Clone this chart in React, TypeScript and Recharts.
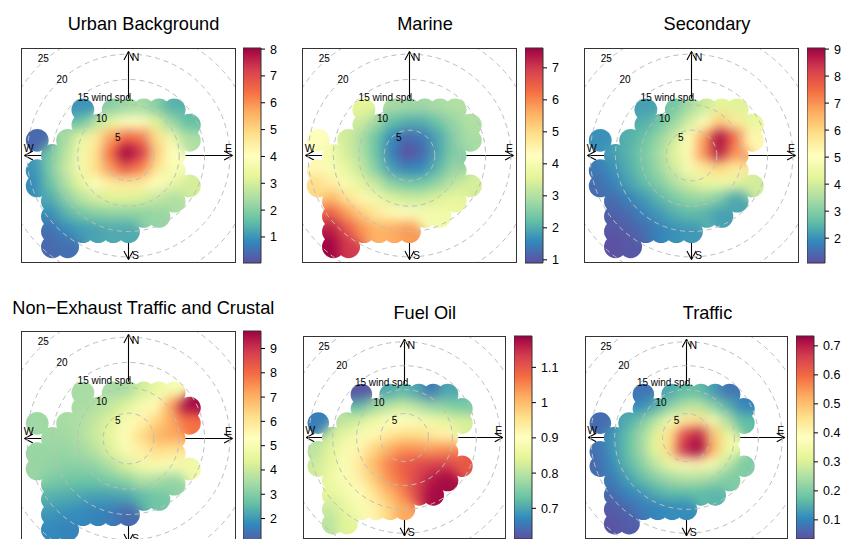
import React from "react"
import { ScatterChart, Scatter, XAxis, YAxis, ReferenceDot, ReferenceLine, ReferenceArea, ComposedChart } from "recharts"

const FONT = '"Liberation Sans", Arial, Helvetica, sans-serif'

// brewer Spectral, reversed (low -> high)
const SPECTRAL = ["#5E4FA2", "#3288BD", "#66C2A5", "#ABDDA4", "#E6F598", "#FFFFBF", "#FEE08B", "#FDAE61", "#F46D43", "#D53E4F", "#9E0142"]

// wind components (u = east, v = north) of the grid cells, in wind speed units
const gridU = [-18, -15, -12, -9, -6, -3, 0, 3, 6, 9, 12]
const gridV = [9, 6, 3, 0, -3, -6, -9, -12, -15, -18]
const _ = null

const urbanRows = [
  [_, _, _, 1.0, _, 2.0, 2.3, 2.4, 2.0, 1.4, _],
  [_, _, _, 1.7, 2.6, 3.4, 4.0, 4.0, 3.2, 2.3, 1.6],
  [0.4, _, 2.3, 3.4, 4.5, 5.8, 6.5, 6.3, 4.8, 3.6, 2.5],
  [_, 1.8, 2.6, 3.6, 4.7, 6.4, 8.4, 7.3, 5.2, 4.0, _],
  [1.0, 1.9, 2.8, 3.7, 4.8, 5.9, 6.8, 6.2, 4.8, 3.8, _],
  [0.9, 1.7, 2.5, 3.3, 4.0, 4.5, 4.6, 4.5, 4.0, 3.5, 3.0],
  [_, 1.3, 2.0, 2.6, 3.0, 3.2, 3.2, 3.1, 2.8, 2.5, _],
  [_, 0.9, 1.4, 1.8, 2.0, 2.1, 2.1, 2.1, 2.2, _, _],
  [_, 0.5, 0.9, 1.1, 1.2, 1.3, 1.3, _, _, _, _],
  [_, 0.4, 0.5, _, _, _, _, _, _, _, _],
]
const marineRows = [
  [_, _, _, 3.6, _, 2.9, 2.8, 2.8, 2.9, 3.0, _],
  [_, _, _, 3.3, 2.8, 2.2, 2.0, 2.0, 2.3, 2.7, 3.0],
  [4.2, _, 3.4, 2.9, 2.3, 1.6, 1.2, 1.4, 1.9, 2.5, 2.9],
  [_, 3.9, 3.4, 3.0, 2.3, 1.5, 0.9, 1.2, 1.9, 2.5, _],
  [4.4, 4.1, 3.7, 3.2, 2.5, 1.8, 1.5, 1.6, 2.1, 2.7, _],
  [5.0, 4.6, 4.1, 3.6, 3.2, 2.6, 2.4, 2.4, 2.7, 3.1, 3.4],
  [_, 5.5, 4.9, 4.4, 3.9, 3.5, 3.3, 3.3, 3.5, 3.7, _],
  [_, 6.5, 5.8, 5.2, 4.7, 4.4, 4.2, 4.0, 3.9, _, _],
  [_, 7.3, 6.6, 5.9, 5.5, 5.6, 5.8, _, _, _, _],
  [_, 7.6, 7.0, _, _, _, _, _, _, _, _],
]
const secondaryRows = [
  [_, _, _, 2.2, _, 2.8, 3.4, 3.9, 4.3, 4.2, _],
  [_, _, _, 2.4, 2.8, 3.3, 4.0, 5.0, 6.2, 5.6, 4.4],
  [2.0, _, 2.4, 2.7, 3.2, 3.9, 5.0, 6.8, 8.9, 7.5, 5.3],
  [_, 2.2, 2.5, 2.9, 3.4, 4.2, 5.2, 7.0, 8.7, 7.0, _],
  [1.7, 2.0, 2.4, 2.8, 3.3, 4.0, 4.8, 5.6, 6.0, 5.6, _],
  [1.5, 1.8, 2.2, 2.6, 3.0, 3.5, 4.0, 4.4, 4.6, 4.4, 4.0],
  [_, 1.5, 1.8, 2.1, 2.5, 2.9, 3.2, 3.3, 3.0, 2.3, _],
  [_, 1.3, 1.5, 1.8, 2.1, 2.4, 2.6, 2.5, 2.2, _, _],
  [_, 1.2, 1.3, 1.5, 1.8, 2.0, 2.1, _, _, _, _],
  [_, 1.1, 1.2, _, _, _, _, _, _, _, _],
]
const nonExhaustRows = [
  [_, _, _, 3.5, _, 3.5, 3.5, 4.1, 4.6, 5.0, _],
  [_, _, _, 3.5, 3.6, 3.9, 4.3, 4.9, 5.4, 7.2, 9.6],
  [3.4, _, 3.5, 3.6, 3.9, 4.3, 5.0, 5.6, 6.3, 7.1, 7.9],
  [_, 3.4, 3.4, 3.6, 4.0, 4.6, 5.4, 6.2, 6.9, 7.1, _],
  [3.3, 3.3, 3.3, 3.4, 3.7, 4.3, 5.0, 5.7, 6.2, 6.0, _],
  [3.3, 3.2, 3.1, 3.1, 3.2, 3.6, 4.2, 4.8, 5.0, 5.0, 4.8],
  [_, 2.9, 2.8, 2.7, 2.7, 2.9, 3.1, 3.6, 3.5, 3.2, _],
  [_, 2.4, 2.3, 2.2, 2.1, 2.1, 2.2, 2.5, 2.8, _, _],
  [_, 2.0, 1.9, 1.8, 1.7, 1.6, 1.3, _, _, _, _],
  [_, 1.8, 1.7, _, _, _, _, _, _, _, _],
]
const fuelOilRows = [
  [_, _, _, 0.62, _, 0.7, 0.72, 0.7, 0.65, 0.7, _],
  [_, _, _, 0.72, 0.77, 0.8, 0.82, 0.8, 0.77, 0.76, 0.74],
  [0.66, _, 0.8, 0.83, 0.86, 0.89, 0.9, 0.89, 0.87, 0.85, 0.83],
  [_, 0.82, 0.85, 0.88, 0.91, 0.94, 0.96, 0.96, 0.94, 0.92, _],
  [0.8, 0.84, 0.88, 0.92, 0.97, 1.01, 1.04, 1.04, 1.03, 1.04, _],
  [0.82, 0.85, 0.89, 0.94, 1.0, 1.05, 1.09, 1.11, 1.12, 1.12, 1.1],
  [_, 0.86, 0.89, 0.93, 0.98, 1.04, 1.08, 1.12, 1.16, 1.18, _],
  [_, 0.85, 0.87, 0.9, 0.95, 1.0, 1.05, 1.12, 1.18, _, _],
  [_, 0.82, 0.85, 0.88, 0.92, 0.97, 1.02, _, _, _, _],
  [_, 0.8, 0.84, _, _, _, _, _, _, _, _],
]
const trafficRows = [
  [_, _, _, 0.08, _, 0.14, 0.17, 0.17, 0.13, 0.08, _],
  [_, _, _, 0.11, 0.15, 0.21, 0.26, 0.27, 0.22, 0.16, 0.1],
  [0.07, _, 0.14, 0.19, 0.26, 0.35, 0.43, 0.45, 0.36, 0.26, 0.17],
  [_, 0.12, 0.17, 0.23, 0.31, 0.45, 0.64, 0.7, 0.5, 0.33, _],
  [0.08, 0.12, 0.17, 0.23, 0.32, 0.46, 0.68, 0.74, 0.52, 0.34, _],
  [0.07, 0.11, 0.16, 0.21, 0.27, 0.34, 0.4, 0.41, 0.36, 0.28, 0.2],
  [_, 0.09, 0.13, 0.17, 0.21, 0.24, 0.26, 0.26, 0.24, 0.2, _],
  [_, 0.07, 0.1, 0.12, 0.15, 0.17, 0.17, 0.17, 0.16, _, _],
  [_, 0.05, 0.07, 0.09, 0.1, 0.11, 0.11, _, _, _, _],
  [_, 0.04, 0.05, _, _, _, _, _, _, _, _],
]

// colour key ranges and tick labels
const urbanRange = [0.03, 8.04]
const marineRange = [0.9, 7.62]
const secondaryRange = [1.08, 9.04]
const nonExhaustRange = [0.87, 9.72]
const fuelOilRange = [0.613, 1.189]
const trafficRange = [0.034, 0.734]
const urbanTicks = [1, 2, 3, 4, 5, 6, 7, 8]
const marineTicks = [1, 2, 3, 4, 5, 6, 7]
const secondaryTicks = [2, 3, 4, 5, 6, 7, 8, 9]
const nonExhaustTicks = [2, 3, 4, 5, 6, 7, 8, 9]
const fuelOilTicks = [0.7, 0.8, 0.9, 1, 1.1]
const trafficTicks = [0.1, 0.2, 0.3, 0.4, 0.5, 0.6, 0.7]

const R = 21.2
const STEP = 3
const RINGS = [5, 10, 15, 20, 25]
const AX = 20.5
const HL = 1.65
const HW = 0.9
const ringLabels: [string, number, number][] = [
  ["25", -16.8, 19.1], ["20", -13.1, 15], ["15 wind spd.", -4.5, 11.5], ["10", -5.3, 7.35], ["5", -2.1, 3.5],
]
const compass: [string, number, number][] = [["N", 1.4, 19.4], ["S", 1.4, -19.7], ["W", -19.7, 1.5], ["E", 19.7, 1.5]]
const axisSegs = [
  [[-AX, 0], [AX, 0]], [[0, -AX], [0, AX]],
  [[AX, 0], [AX - HL, HW]], [[AX, 0], [AX - HL, -HW]],
  [[-AX, 0], [-AX + HL, HW]], [[-AX, 0], [-AX + HL, -HW]],
  [[0, AX], [HW, AX - HL]], [[0, AX], [-HW, AX - HL]],
  [[0, -AX], [HW, -AX + HL]], [[0, -AX], [-HW, -AX + HL]],
]

function hexRgb(h: string) {
  const n = parseInt(h.slice(1), 16)
  return [(n >> 16) & 255, (n >> 8) & 255, n & 255]
}

function colorOf(v: number, lo: number, hi: number) {
  const t = Math.min(1, Math.max(0, (v - lo) / (hi - lo))) * (SPECTRAL.length - 1)
  const i = Math.min(SPECTRAL.length - 2, Math.floor(t))
  const f = t - i
  const a = hexRgb(SPECTRAL[i])
  const b = hexRgb(SPECTRAL[i + 1])
  const c = a.map((x, k) => Math.round(x + (b[k] - x) * f))
  return `rgb(${c[0]},${c[1]},${c[2]})`
}

function toPoints(rows: (number | null)[][]) {
  const out: { u: number; v: number; val: number }[] = []
  rows.forEach((row, i) => row.forEach((val, j) => {
    if (val != null) out.push({ u: gridU[j], v: gridV[i], val })
  }))
  return out
}

type PanelProps = {
  id: string
  title: string
  rows: (number | null)[][]
  range: number[]
  ticks: number[]
  left: number
  top: number
  size: number
  barLeft: number
  titleX: number
  titleY: number
}

function Panel({ id, title, rows, range, ticks, left, top, size, barLeft, titleX, titleY }: PanelProps) {
  const [lo, hi] = range
  const scale = size / (2 * R)
  const dotR = 0.75 * STEP * scale
  const pts = toPoints(rows)
  return (
    <>
      <div style={{ position: "absolute", left: titleX - 170, top: titleY - 11, width: 340, textAlign: "center", fontSize: 18.2, lineHeight: "22px", color: "#000" }}>
        {title}
      </div>
      <div className="hm" style={{ position: "absolute", left, top, width: size, height: size }}>
        <ScatterChart width={size} height={size} margin={{ top: 0, right: 0, bottom: 0, left: 0 }}>
          <XAxis type="number" dataKey="u" domain={[-R, R]} hide allowDataOverflow />
          <YAxis type="number" dataKey="v" domain={[-R, R]} hide allowDataOverflow />
          <Scatter
            data={pts}
            isAnimationActive={false}
            shape={(p: any) => <circle cx={p.cx} cy={p.cy} r={dotR} fill={colorOf(p.payload.val, lo, hi)} />}
          />
          {RINGS.map((k) => (
            <ReferenceDot key={k} x={0} y={0} r={k * scale} ifOverflow="visible"
              shape={(p: any) => <circle cx={p.cx} cy={p.cy} r={k * scale} fill="none" stroke="#bdbdbd" strokeWidth={1} strokeDasharray="5 4" />} />
          ))}
          {axisSegs.map((s, i) => (
            <ReferenceLine key={i} segment={[{ x: s[0][0], y: s[0][1] }, { x: s[1][0], y: s[1][1] }]} stroke="#000" strokeWidth={1.1} ifOverflow="visible" />
          ))}
          {ringLabels.map(([t, u, v]) => (
            <ReferenceDot key={t} x={u} y={v} r={1} ifOverflow="visible"
              shape={(p: any) => <text x={p.cx} y={p.cy} textAnchor="middle" dominantBaseline="central" fontSize={10} fontFamily={FONT} fill="#000">{t}</text>} />
          ))}
          {compass.map(([t, u, v]) => (
            <ReferenceDot key={t} x={u} y={v} r={1} ifOverflow="visible"
              shape={(p: any) => <text x={p.cx} y={p.cy} textAnchor="middle" dominantBaseline="central" fontSize={10.5} fontFamily={FONT} fill="#000">{t}</text>} />
          ))}
        </ScatterChart>
        <div style={{ position: "absolute", left: 0, top: 0, width: size, height: size, boxSizing: "border-box", border: "1px solid #333", pointerEvents: "none" }} />
      </div>
      <div style={{ position: "absolute", left: barLeft, top: top - 10 }}>
        <ComposedChart width={62} height={size + 20} margin={{ top: 10, right: 0, bottom: 10, left: 0 }}>
          <defs>
            <linearGradient id={`key-${id}`} x1="0" y1="1" x2="0" y2="0">
              {SPECTRAL.map((c, i) => <stop key={i} offset={`${(i / (SPECTRAL.length - 1)) * 100}%`} stopColor={c} />)}
            </linearGradient>
          </defs>
          <XAxis type="number" dataKey="x" domain={[0, 1]} hide allowDataOverflow />
          <YAxis type="number" orientation="right" domain={[lo, hi]} ticks={ticks} interval={0} allowDataOverflow width={44}
            axisLine={false} tickSize={4} tickMargin={5} tickLine={{ stroke: "#000" }}
            tick={{ fontSize: 12.5, fill: "#000", fontFamily: FONT }} />
          <ReferenceArea x1={0} x2={1} y1={lo} y2={hi} fill={`url(#key-${id})`} fillOpacity={1} stroke="#333" strokeWidth={1} ifOverflow="visible" />
        </ComposedChart>
      </div>
    </>
  )
}

export default function App() {
  return (
    <div style={{ position: "absolute", left: 0, top: 0, width: 841, height: 539, overflow: "hidden", background: "#fff", fontFamily: FONT }}>
      <style>{".hm .recharts-scatter { filter: url(#heatSmooth); }"}</style>
      <svg width={0} height={0} style={{ position: "absolute" }}>
        <defs>
          <filter id="heatSmooth" x="-20%" y="-20%" width="140%" height="140%" colorInterpolationFilters="sRGB">
            <feGaussianBlur in="SourceGraphic" stdDeviation="6" result="b" />
            <feColorMatrix in="b" type="matrix" values="1 0 0 0 0  0 1 0 0 0  0 0 1 0 0  0 0 0 80 0" result="o" />
            <feComposite in="o" in2="SourceAlpha" operator="in" />
          </filter>
        </defs>
      </svg>
      <Panel id="ub" title="Urban Background" rows={urbanRows} range={urbanRange} ticks={urbanTicks} left={21} top={48} size={215} barLeft={243} titleX={143.5} titleY={23.5} />
      <Panel id="ma" title="Marine" rows={marineRows} range={marineRange} ticks={marineTicks} left={302} top={48} size={215} barLeft={525} titleX={425} titleY={23.7} />
      <Panel id="se" title="Secondary" rows={secondaryRows} range={secondaryRange} ticks={secondaryTicks} left={584} top={48} size={215} barLeft={807} titleX={707} titleY={23.7} />
      <Panel id="ne" title="Non−Exhaust Traffic and Crustal" rows={nonExhaustRows} range={nonExhaustRange} ticks={nonExhaustTicks} left={21} top={331} size={215} barLeft={243} titleX={143.3} titleY={308.3} />
      <Panel id="fo" title="Fuel Oil" rows={fuelOilRows} range={fuelOilRange} ticks={fuelOilTicks} left={303} top={336} size={203} barLeft={514} titleX={424.8} titleY={313.3} />
      <Panel id="tr" title="Traffic" rows={trafficRows} range={trafficRange} ticks={trafficTicks} left={585} top={336} size={203} barLeft={796} titleX={707.5} titleY={313.3} />
    </div>
  )
}
